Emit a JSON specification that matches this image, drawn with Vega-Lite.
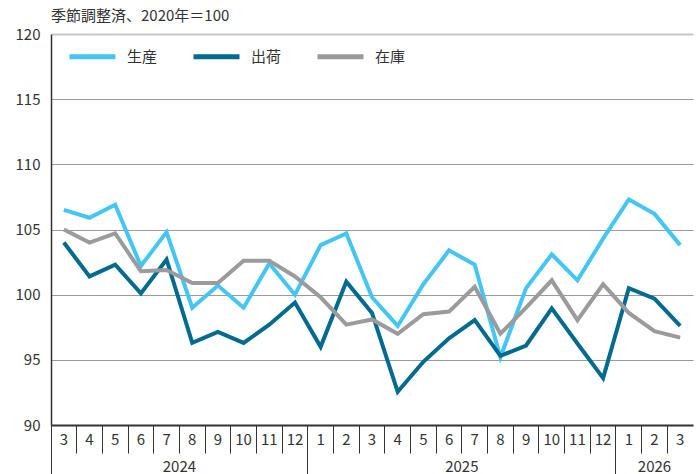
{
  "$schema": "https://vega.github.io/schema/vega-lite/v6.json",
  "width": 642,
  "height": 391,
  "autosize": "none",
  "padding": {"left": 51, "top": 34, "right": 5, "bottom": 49},
  "title": {"text": "季節調整済、2020年＝100", "anchor": "start", "frame": "group", "offset": 3, "fontSize": 15, "fontWeight": "normal", "font": "Noto Sans CJK JP", "color": "#333333"},
  "config": {"view": {"stroke": null}, "font": "Noto Sans CJK JP"},
  "data": {"values": [
    {"ym": "2024-03", "series": "生産", "value": 106.5},
    {"ym": "2024-04", "series": "生産", "value": 105.9},
    {"ym": "2024-05", "series": "生産", "value": 106.9},
    {"ym": "2024-06", "series": "生産", "value": 102.2},
    {"ym": "2024-07", "series": "生産", "value": 104.8},
    {"ym": "2024-08", "series": "生産", "value": 99.0},
    {"ym": "2024-09", "series": "生産", "value": 100.7},
    {"ym": "2024-10", "series": "生産", "value": 99.0},
    {"ym": "2024-11", "series": "生産", "value": 102.4},
    {"ym": "2024-12", "series": "生産", "value": 100.0},
    {"ym": "2025-01", "series": "生産", "value": 103.8},
    {"ym": "2025-02", "series": "生産", "value": 104.7},
    {"ym": "2025-03", "series": "生産", "value": 99.8},
    {"ym": "2025-04", "series": "生産", "value": 97.6},
    {"ym": "2025-05", "series": "生産", "value": 100.8},
    {"ym": "2025-06", "series": "生産", "value": 103.4},
    {"ym": "2025-07", "series": "生産", "value": 102.3},
    {"ym": "2025-08", "series": "生産", "value": 95.2},
    {"ym": "2025-09", "series": "生産", "value": 100.5},
    {"ym": "2025-10", "series": "生産", "value": 103.1},
    {"ym": "2025-11", "series": "生産", "value": 101.1},
    {"ym": "2025-12", "series": "生産", "value": 104.3},
    {"ym": "2026-01", "series": "生産", "value": 107.3},
    {"ym": "2026-02", "series": "生産", "value": 106.2},
    {"ym": "2026-03", "series": "生産", "value": 103.8},
    {"ym": "2024-03", "series": "出荷", "value": 104.0},
    {"ym": "2024-04", "series": "出荷", "value": 101.4},
    {"ym": "2024-05", "series": "出荷", "value": 102.3},
    {"ym": "2024-06", "series": "出荷", "value": 100.1},
    {"ym": "2024-07", "series": "出荷", "value": 102.7},
    {"ym": "2024-08", "series": "出荷", "value": 96.3},
    {"ym": "2024-09", "series": "出荷", "value": 97.15},
    {"ym": "2024-10", "series": "出荷", "value": 96.3},
    {"ym": "2024-11", "series": "出荷", "value": 97.7},
    {"ym": "2024-12", "series": "出荷", "value": 99.4},
    {"ym": "2025-01", "series": "出荷", "value": 96.0},
    {"ym": "2025-02", "series": "出荷", "value": 101.0},
    {"ym": "2025-03", "series": "出荷", "value": 98.6},
    {"ym": "2025-04", "series": "出荷", "value": 92.55},
    {"ym": "2025-05", "series": "出荷", "value": 94.85},
    {"ym": "2025-06", "series": "出荷", "value": 96.65},
    {"ym": "2025-07", "series": "出荷", "value": 98.05},
    {"ym": "2025-08", "series": "出荷", "value": 95.3},
    {"ym": "2025-09", "series": "出荷", "value": 96.1},
    {"ym": "2025-10", "series": "出荷", "value": 98.95},
    {"ym": "2025-11", "series": "出荷", "value": 96.25},
    {"ym": "2025-12", "series": "出荷", "value": 93.6},
    {"ym": "2026-01", "series": "出荷", "value": 100.5},
    {"ym": "2026-02", "series": "出荷", "value": 99.7},
    {"ym": "2026-03", "series": "出荷", "value": 97.6},
    {"ym": "2024-03", "series": "在庫", "value": 105.0},
    {"ym": "2024-04", "series": "在庫", "value": 104.0},
    {"ym": "2024-05", "series": "在庫", "value": 104.7},
    {"ym": "2024-06", "series": "在庫", "value": 101.8},
    {"ym": "2024-07", "series": "在庫", "value": 101.9},
    {"ym": "2024-08", "series": "在庫", "value": 100.9},
    {"ym": "2024-09", "series": "在庫", "value": 100.9},
    {"ym": "2024-10", "series": "在庫", "value": 102.6},
    {"ym": "2024-11", "series": "在庫", "value": 102.6},
    {"ym": "2024-12", "series": "在庫", "value": 101.4},
    {"ym": "2025-01", "series": "在庫", "value": 99.8},
    {"ym": "2025-02", "series": "在庫", "value": 97.7},
    {"ym": "2025-03", "series": "在庫", "value": 98.1},
    {"ym": "2025-04", "series": "在庫", "value": 97.0},
    {"ym": "2025-05", "series": "在庫", "value": 98.5},
    {"ym": "2025-06", "series": "在庫", "value": 98.7},
    {"ym": "2025-07", "series": "在庫", "value": 100.6},
    {"ym": "2025-08", "series": "在庫", "value": 97.0},
    {"ym": "2025-09", "series": "在庫", "value": 99.0},
    {"ym": "2025-10", "series": "在庫", "value": 101.1},
    {"ym": "2025-11", "series": "在庫", "value": 98.05},
    {"ym": "2025-12", "series": "在庫", "value": 100.8},
    {"ym": "2026-01", "series": "在庫", "value": 98.6},
    {"ym": "2026-02", "series": "在庫", "value": 97.2},
    {"ym": "2026-03", "series": "在庫", "value": 96.7}
  ]},
  "encoding": {
    "y": {
      "field": "value", "type": "quantitative",
      "scale": {"domain": [90, 120], "nice": false, "zero": false},
      "axis": {
        "title": null,
        "values": [90, 95, 100, 105, 110, 115, 120],
        "ticks": false,
        "labelPadding": 11,
        "labelFontSize": 15,
        "labelColor": "#333333",
        "domainColor": "#333333",
        "domainWidth": 1.5,
        "gridColor": {"condition": {"test": "datum.value === 120", "value": "#c8c8c8"}, "value": "#9a9a9a"},
        "gridWidth": {"condition": {"test": "datum.value === 120", "value": 2}, "value": 1}
      }
    },
    "color": {
      "field": "series", "type": "nominal",
      "scale": {"domain": ["生産", "出荷", "在庫"], "range": ["#45c6f2", "#006b8f", "#9b9b9d"]},
      "legend": {
        "title": null, "orient": "none", "legendX": 16, "legendY": -3,
        "direction": "horizontal", "symbolType": "stroke", "symbolSize": 2116,
        "symbolStrokeWidth": 5, "labelFontSize": 15, "labelColor": "#333333",
        "labelOffset": 9, "columnPadding": 25, "padding": 0
      }
    }
  },
  "layer": [
    {
      "transform": [{"filter": "datum.series === '生産'"}],
      "mark": {"type": "line", "strokeWidth": 4},
      "encoding": {
        "x": {
          "field": "ym", "type": "ordinal", "bandPosition": 0.5,
          "scale": {"type": "band", "paddingInner": 0, "paddingOuter": 0},
          "axis": {
            "orient": "bottom", "title": null, "bandPosition": 0,
            "labelExpr": "'' + toNumber(split(datum.value, '-')[1])",
            "labelAngle": 0,
            "labelPadding": {"condition": {"test": "indexof(['2024-03','2025-01','2026-01'], datum.value) >= 0", "value": -42}, "value": -21},
            "labelFontSize": 15, "labelColor": "#333333", "labelOverlap": false, "labelFlush": false,
            "tickSize": {"condition": {"test": "indexof(['2024-03','2025-01','2026-01'], datum.value) >= 0", "value": 49}, "value": 28},
            "tickColor": "#333333", "tickWidth": 1,
            "domainColor": "#333333", "domainWidth": 2, "grid": false
          }
        }
      }
    },
    {
      "transform": [{"filter": "datum.series === '出荷'"}],
      "mark": {"type": "line", "strokeWidth": 4},
      "encoding": {
        "x": {
          "field": "ym", "type": "ordinal", "bandPosition": 0.5,
          "scale": {"type": "band", "paddingInner": 0, "paddingOuter": 0},
          "axis": {
            "orient": "bottom", "title": null, "bandPosition": 0,
            "values": ["2024-08", "2025-07", "2026-02"],
            "labelExpr": "slice(datum.value, 0, 4)",
            "ticks": false, "domain": false, "grid": false,
            "labelPadding": 34, "labelAngle": 0,
            "labelOffset": {"condition": {"test": "datum.value === '2026-02'", "value": 0}, "value": -12.84},
            "labelFontSize": 15, "labelColor": "#333333", "labelOverlap": false, "labelFlush": false
          }
        }
      }
    },
    {
      "transform": [{"filter": "datum.series === '在庫'"}],
      "mark": {"type": "line", "strokeWidth": 4},
      "encoding": {
        "x": {
          "field": "ym", "type": "ordinal", "bandPosition": 0.5,
          "scale": {"type": "band", "paddingInner": 0, "paddingOuter": 0},
          "axis": null
        }
      }
    }
  ],
  "resolve": {"axis": {"x": "independent"}}
}
